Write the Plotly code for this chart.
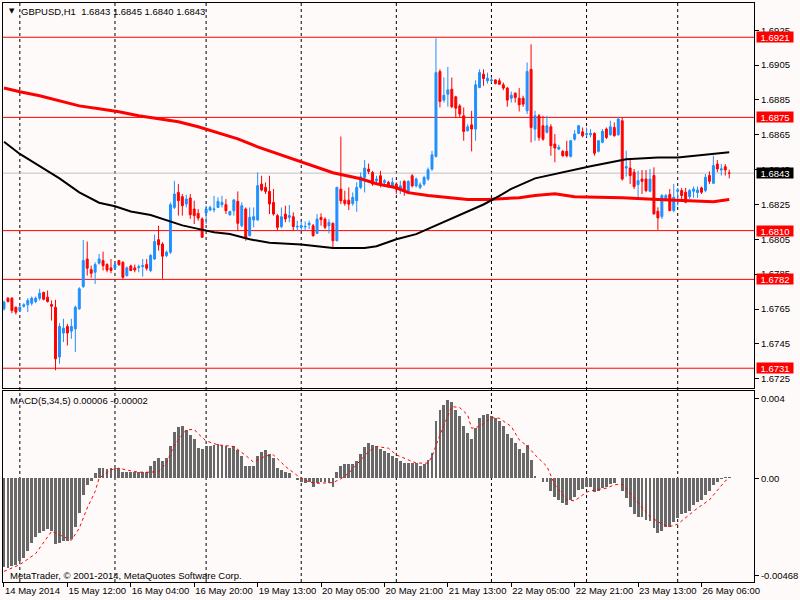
import plotly.graph_objects as go

# ---------------- data ----------------
bars = list(range(184))

opens = [1.67651,1.67712,1.67712,1.67660,1.67641,1.67666,1.67674,1.67683,1.67693,1.67712,
1.67745,1.67718,1.67676,1.67660,1.67374,1.67512,1.67550,1.67523,1.67536,1.67651,
1.67779,1.67937,1.67876,1.67861,1.67913,1.67928,1.67905,1.67886,1.67884,1.67928,
1.67918,1.67842,1.67897,1.67886,1.67888,1.67894,1.67905,1.67871,1.67937,1.68048,
1.68023,1.67957,1.67976,1.68233,1.68319,1.68295,1.68253,1.68287,1.68224,1.68199,
1.68167,1.68201,1.68218,1.68220,1.68233,1.68249,1.68249,1.68191,1.68214,1.68268,
1.68128,1.68224,1.68071,1.68161,1.68161,1.68367,1.68348,1.68325,1.68262,1.68186,
1.68123,1.68195,1.68176,1.68180,1.68121,1.68119,1.68121,1.68134,1.68128,1.68084,
1.68176,1.68166,1.68128,1.68142,1.68042,1.68338,1.68275,1.68275,1.68256,1.68271,
1.68348,1.68405,1.68453,1.68434,1.68386,1.68415,1.68377,1.68377,1.68357,1.68367,
1.68333,1.68382,1.68314,1.68415,1.68357,1.68348,1.68367,1.68396,1.68453,1.68526,
1.69013,1.68849,1.68883,1.68912,1.68868,1.68816,1.68759,1.68673,1.68707,1.68683,
1.68921,1.68998,1.68960,1.68960,1.68965,1.68960,1.68937,1.68918,1.68860,1.68889,
1.68860,1.68860,1.68788,1.69026,1.68683,1.68759,1.68702,1.68664,1.68696,1.68597,
1.68568,1.68555,1.68555,1.68526,1.68625,1.68658,1.68667,1.68652,1.68650,1.68658,
1.68555,1.68607,1.68683,1.68650,1.68692,1.68650,1.68731,1.68459,1.68459,1.68435,
1.68364,1.68396,1.68396,1.68326,1.68416,1.68211,1.68181,1.68282,1.68307,1.68215,
1.68326,1.68330,1.68320,1.68295,1.68326,1.68318,1.68345,1.68330,1.68416,1.68372,
1.68482,1.68448,1.68467,1.68430]

highs = [1.67699,1.67718,1.67718,1.67664,1.67670,1.67683,1.67712,1.67722,1.67722,1.67766,
1.67750,1.67756,1.67699,1.67703,1.67569,1.67594,1.67565,1.67594,1.67670,1.67775,
1.68046,1.68037,1.67899,1.67918,1.67966,1.67979,1.67913,1.67937,1.67913,1.67932,
1.67924,1.67894,1.67905,1.67905,1.67905,1.67937,1.67937,1.67966,1.68077,1.68128,
1.68033,1.67985,1.68262,1.68386,1.68367,1.68310,1.68306,1.68310,1.68272,1.68224,
1.68176,1.68243,1.68243,1.68300,1.68291,1.68300,1.68281,1.68214,1.68281,1.68325,
1.68262,1.68233,1.68233,1.68233,1.68434,1.68415,1.68377,1.68415,1.68339,1.68195,
1.68233,1.68243,1.68247,1.68205,1.68157,1.68157,1.68153,1.68157,1.68138,1.68195,
1.68199,1.68176,1.68166,1.68147,1.68352,1.68640,1.68329,1.68348,1.68319,1.68377,
1.68434,1.68505,1.68485,1.68443,1.68415,1.68443,1.68396,1.68386,1.68405,1.68377,
1.68386,1.68390,1.68390,1.68424,1.68405,1.68377,1.68415,1.68462,1.68558,1.69204,
1.69026,1.68979,1.69040,1.68979,1.68874,1.68826,1.68807,1.68711,1.68788,1.68963,
1.69026,1.69026,1.69007,1.68983,1.68969,1.68975,1.68950,1.68925,1.68898,1.68893,
1.68918,1.68874,1.69065,1.69170,1.68788,1.68769,1.68759,1.68759,1.68711,1.68654,
1.68593,1.68562,1.68616,1.68620,1.68677,1.68707,1.68692,1.68692,1.68683,1.68664,
1.68620,1.68683,1.68692,1.68731,1.68721,1.68754,1.68750,1.68559,1.68511,1.68454,
1.68444,1.68448,1.68448,1.68454,1.68463,1.68234,1.68310,1.68310,1.68339,1.68368,
1.68345,1.68345,1.68345,1.68339,1.68353,1.68353,1.68353,1.68425,1.68440,1.68530,
1.68505,1.68482,1.68482,1.68450]

lows = [1.67641,1.67687,1.67626,1.67618,1.67632,1.67657,1.67632,1.67670,1.67683,1.67699,
1.67699,1.67687,1.67584,1.67298,1.67336,1.67460,1.67441,1.67479,1.67403,1.67645,
1.67771,1.67842,1.67829,1.67794,1.67905,1.67871,1.67861,1.67855,1.67874,1.67897,
1.67823,1.67836,1.67867,1.67861,1.67861,1.67836,1.67871,1.67861,1.67932,1.67985,
1.67823,1.67947,1.67966,1.68224,1.68186,1.68186,1.68233,1.68167,1.68138,1.68157,
1.68058,1.68138,1.68211,1.68205,1.68230,1.68233,1.68195,1.68186,1.68186,1.68100,
1.68119,1.68042,1.68067,1.68119,1.68157,1.68325,1.68310,1.68195,1.68186,1.68100,
1.68115,1.68148,1.68148,1.68100,1.68100,1.68100,1.68100,1.68109,1.68065,1.68080,
1.68128,1.68109,1.68084,1.67995,1.68038,1.68252,1.68243,1.68218,1.68243,1.68208,
1.68338,1.68319,1.68424,1.68357,1.68367,1.68348,1.68367,1.68348,1.68348,1.68310,
1.68310,1.68300,1.68310,1.68348,1.68348,1.68338,1.68357,1.68386,1.68443,1.68520,
1.68807,1.68835,1.68811,1.68803,1.68746,1.68746,1.68616,1.68669,1.68555,1.68616,
1.68918,1.68931,1.68944,1.68950,1.68940,1.68937,1.68906,1.68811,1.68835,1.68835,
1.68784,1.68811,1.68769,1.68606,1.68616,1.68616,1.68616,1.68658,1.68530,1.68492,
1.68562,1.68524,1.68520,1.68520,1.68616,1.68654,1.68635,1.68639,1.68635,1.68530,
1.68549,1.68601,1.68626,1.68645,1.68639,1.68645,1.68387,1.68410,1.68368,1.68339,
1.68291,1.68310,1.68320,1.68320,1.68192,1.68104,1.68167,1.68272,1.68211,1.68205,
1.68244,1.68272,1.68257,1.68282,1.68288,1.68288,1.68310,1.68320,1.68368,1.68368,
1.68435,1.68416,1.68416,1.68400]

closes = [1.67689,1.67693,1.67641,1.67632,1.67660,1.67674,1.67699,1.67712,1.67712,1.67741,
1.67706,1.67693,1.67666,1.67364,1.67550,1.67540,1.67512,1.67550,1.67660,1.67766,
1.67928,1.67884,1.67855,1.67905,1.67937,1.67899,1.67874,1.67871,1.67905,1.67905,
1.67832,1.67886,1.67871,1.67874,1.67892,1.67899,1.67884,1.67957,1.68037,1.68018,
1.67953,1.67976,1.68249,1.68310,1.68272,1.68243,1.68281,1.68191,1.68186,1.68172,
1.68062,1.68224,1.68233,1.68224,1.68268,1.68262,1.68214,1.68209,1.68276,1.68142,
1.68243,1.68058,1.68176,1.68180,1.68358,1.68333,1.68325,1.68253,1.68195,1.68119,
1.68180,1.68167,1.68186,1.68123,1.68124,1.68128,1.68124,1.68142,1.68071,1.68166,
1.68163,1.68119,1.68147,1.68042,1.68348,1.68271,1.68256,1.68252,1.68291,1.68348,
1.68409,1.68459,1.68440,1.68367,1.68396,1.68367,1.68386,1.68357,1.68377,1.68338,
1.68357,1.68329,1.68382,1.68357,1.68396,1.68363,1.68405,1.68449,1.68535,1.69007,
1.68841,1.68877,1.68908,1.68811,1.68803,1.68769,1.68669,1.68696,1.68683,1.68937,
1.69007,1.68973,1.68975,1.68965,1.68944,1.68940,1.68918,1.68849,1.68877,1.68864,
1.68822,1.68826,1.69013,1.68692,1.68759,1.68635,1.68625,1.68702,1.68587,1.68574,
1.68578,1.68530,1.68530,1.68616,1.68654,1.68702,1.68644,1.68656,1.68658,1.68544,
1.68616,1.68670,1.68635,1.68696,1.68645,1.68740,1.68396,1.68467,1.68416,1.68353,
1.68387,1.68383,1.68330,1.68396,1.68196,1.68173,1.68301,1.68301,1.68215,1.68291,
1.68333,1.68301,1.68263,1.68330,1.68339,1.68333,1.68320,1.68406,1.68383,1.68473,
1.68454,1.68454,1.68448,1.68430]

ma_red_bars = [0,4,9,14,19,24,29,34,39,44,49,54,59,64,67,75,83,90,94,99,102,107,112,117,
               122,125,130,134,139,144,156,165,179,183]
ma_red_vals = [1.68919,1.68897,1.68874,1.68845,1.68816,1.68799,1.68782,1.68759,1.68742,1.68725,
               1.68696,1.68662,1.68627,1.68581,1.68558,1.68495,1.68432,1.68398,1.68369,1.68346,
               1.68318,1.68301,1.68289,1.68278,1.68278,1.68283,1.68289,1.68301,1.68312,1.68295,
               1.68289,1.68278,1.68266,1.68278]

ma_black_bars = [0,4,9,14,19,24,28,32,37,41,45,49,53,57,62,67,75,83,87,91,94,99,104,108,112,
                 117,121,125,128,134,140,148,157,165,170,175,179,183]
ma_black_vals = [1.6861,1.6854,1.6847,1.6840,1.6832,1.6826,1.6824,1.6821,1.6819,1.6816,1.6813,
                 1.6811,1.6809,1.6808,1.6805,1.6803,1.6802,1.6800,1.6800,1.6800,1.6801,1.6805,
                 1.6808,1.6812,1.6816,1.6821,1.6825,1.6830,1.6834,1.6840,1.6843,1.6847,1.6851,
                 1.6852,1.6852,1.6853,1.6854,1.6855]

macd_vals = [-0.00402,-0.00405,-0.00398,-0.0039,-0.00375,-0.0036,-0.0033,-0.00293,-0.00263,-0.00248,
-0.0024,-0.00228,-0.0024,-0.00297,-0.00293,-0.00285,-0.00282,-0.00273,-0.00222,-0.00158,
-0.00075,-0.0003,-0.00012,0.00023,0.00045,0.00045,0.00042,0.00045,0.00048,0.00045,
0.0003,0.0003,0.00027,0.0003,0.00027,0.00027,0.0003,0.00053,0.00078,0.00093,
0.00078,0.0009,0.00146,0.00206,0.0023,0.00233,0.00218,0.00195,0.00176,0.00135,
0.0013,0.00143,0.00146,0.0015,0.00153,0.0015,0.00143,0.00135,0.00143,0.00128,
0.00102,0.00056,0.00053,0.00053,0.00098,0.0012,0.00128,0.00108,0.0009,0.00048,
0.00038,0.00027,0.00023,0.00003,-0.00008,-0.00015,-0.00023,-0.00015,-0.00038,-0.00023,
-0.00015,-0.00015,-0.0002,-0.00042,0.00027,0.00057,0.00065,0.00065,0.00065,0.00078,
0.0011,0.0014,0.0016,0.0015,0.00143,0.00132,0.00123,0.00113,0.00102,0.0009,
0.00078,0.00068,0.0007,0.0007,0.00068,0.00057,0.00065,0.00083,0.00113,0.00258,
0.00308,0.0033,0.00353,0.00342,0.00308,0.00282,0.00237,0.00203,0.00177,0.00228,
0.0027,0.00285,0.00288,0.00282,0.0027,0.00258,0.00237,0.00198,0.00183,0.00158,
0.00132,0.00113,0.0015,0.0008,0.00008,0.00002,-0.00015,-0.00018,-0.00057,-0.00083,
-0.00098,-0.00113,-0.00123,-0.00098,-0.00083,-0.00053,-0.00048,-0.00038,-0.00042,-0.00063,
-0.00057,-0.00045,-0.00038,-0.00027,-0.00023,0.00003,-0.0006,-0.0009,-0.00128,-0.00162,
-0.00173,-0.00177,-0.00188,-0.00195,-0.00225,-0.00248,-0.00237,-0.00218,-0.00218,-0.00198,
-0.0018,-0.00162,-0.00158,-0.00147,-0.0012,-0.00108,-0.00098,-0.00075,-0.0006,-0.0003,
-0.00015,-0.00003,0.00005,0.00006]

signal_bars = [0,4,8,10,12,14,17,19,21,23,24,27,29,32,34,37,39,41,43,46,48,49,51,54,58,61,63,66,
               68,71,74,77,79,83,85,87,89,92,94,97,99,102,104,107,108,110,112,113,115,117,118,
               120,123,125,128,130,132,134,137,139,142,144,147,149,152,154,156,158,161,163,166,
               168,170,173,175,178,180,182,183]
signal_vals = [-0.0042,-0.0039,-0.0034,-0.0029,-0.0024,-0.00255,-0.0028,-0.00225,-0.00135,-0.0006,
               0.0,0.00038,0.00045,0.00033,0.00027,0.00027,0.0003,0.00068,0.0015,0.00218,0.0022,
               0.002,0.00168,0.0015,0.00143,0.00102,0.00072,0.001,0.00105,0.00053,0.00012,-0.00018,
               -0.00023,-0.0002,-0.00003,0.00023,0.0006,0.0012,0.00143,0.00135,0.00105,0.00083,
               0.00068,0.00068,0.00098,0.00195,0.00285,0.00323,0.00318,0.00285,0.00225,0.00233,
               0.00273,0.0027,0.00233,0.00173,0.00145,0.00105,0.00053,-0.0003,-0.00098,-0.00102,
               -0.00063,-0.00053,-0.00045,-0.0003,-0.00027,-0.00068,-0.00128,-0.00173,-0.00207,
               -0.00218,-0.00207,-0.00165,-0.00135,-0.00098,-0.00053,-0.00012,-0.00002]

tick_bars = [0,16,32,48,64,80,96,112,128,144,160,176]
tick_labels = ["14 May 2014","15 May 12:00","16 May 04:00","16 May 20:00","19 May 13:00",
               "20 May 05:00","20 May 21:00","21 May 13:00","22 May 05:00","22 May 21:00",
               "23 May 13:00","26 May 06:00"]
day_sep_bars = [4,28,51,75,99,123,147,170]
red_levels = [1.6921,1.6875,1.6810,1.6782,1.6731]
red_level_labels = ["1.6921","1.6875","1.6810","1.6782","1.6731"]
bid_level = 1.6843
bid_label = "1.6843"
price_ticks = [1.6925,1.6905,1.6885,1.6865,1.6845,1.6825,1.6805,1.6785,1.6765,1.6745,1.6725]
macd_tickvals = [0.0036,0.0,-0.0044]
macd_ticktext = ["0.004","0.00","-0.00468"]

# ---------------- figure ----------------
BG = "#FFFAFA"
FONT = "Tahoma, Liberation Sans, Arial, sans-serif"
FS = 9.5
W, H = 800, 600
ML, MR, MT, MB = 2, 40, 2, 18
plot_w = W - ML - MR
plot_h = H - MT - MB

def px_x(px):
    return (px - ML) / plot_w

def px_y(py):
    return (H - MB - py) / plot_h

main_dom = [px_y(388), 1.0]
macd_dom = [0.0, px_y(391)]

fig = go.Figure()

fig.add_trace(go.Candlestick(
    x=bars, open=opens, high=highs, low=lows, close=closes,
    xaxis="x", yaxis="y",
    increasing=dict(line=dict(color="#1E90FF", width=1), fillcolor="#1E90FF"),
    decreasing=dict(line=dict(color="#FF0000", width=1), fillcolor="#FF0000"),
    whiskerwidth=0, hoverinfo="skip", showlegend=False))

fig.add_trace(go.Scatter(x=ma_red_bars, y=ma_red_vals, mode="lines", xaxis="x", yaxis="y",
                         line=dict(color="#FF0000", width=3), hoverinfo="skip", showlegend=False))
fig.add_trace(go.Scatter(x=ma_black_bars, y=ma_black_vals, mode="lines", xaxis="x", yaxis="y",
                         line=dict(color="#000000", width=2), hoverinfo="skip", showlegend=False))

fig.add_trace(go.Bar(x=bars, y=macd_vals, xaxis="x2", yaxis="y2", width=0.72,
                     marker=dict(color="#686868", line=dict(width=0)),
                     hoverinfo="skip", showlegend=False))
fig.add_trace(go.Scatter(x=signal_bars, y=signal_vals, mode="lines", xaxis="x2", yaxis="y2",
                         line=dict(color="#FF0000", width=1, dash="dot"),
                         hoverinfo="skip", showlegend=False))

shapes = []
for b in day_sep_bars:
    shapes.append(dict(type="line", xref="x", yref="paper", x0=b, x1=b, y0=0, y1=1,
                       line=dict(color="black", width=1, dash="3px,3px"), layer="below"))
for lv in red_levels:
    shapes.append(dict(type="line", xref="x domain", yref="y", x0=0, x1=1, y0=lv, y1=lv,
                       line=dict(color="#FF0000", width=1), layer="below"))
shapes.append(dict(type="line", xref="x domain", yref="y", x0=0, x1=1, y0=bid_level, y1=bid_level,
                   line=dict(color="#C0C0C0", width=1), layer="below"))

annotations = []
for lv, txt in zip(red_levels, red_level_labels):
    annotations.append(dict(xref="paper", yref="y", x=1, y=lv, xanchor="left", yanchor="middle",
                            xshift=2, text=txt, showarrow=False, bgcolor="#FF0000",
                            font=dict(color="white", size=FS, family=FONT),
                            width=36, height=10, borderpad=0))
annotations.append(dict(xref="paper", yref="y", x=1, y=bid_level, xanchor="left", yanchor="middle",
                        xshift=2, text=bid_label, showarrow=False, bgcolor="#000000",
                        font=dict(color="white", size=FS, family=FONT),
                        width=36, height=10, borderpad=0))
annotations.append(dict(xref="paper", yref="paper", x=px_x(6), y=px_y(10.5), xanchor="left",
                        yanchor="middle", text="▼", showarrow=False,
                        font=dict(color="black", size=7, family="DejaVu Sans")))
annotations.append(dict(xref="paper", yref="paper", x=px_x(18), y=px_y(10.5), xanchor="left",
                        yanchor="middle", text="GBPUSD,H1  1.6843 1.6845 1.6840 1.6843",
                        showarrow=False, font=dict(color="black", size=FS, family=FONT)))
annotations.append(dict(xref="paper", yref="paper", x=px_x(7), y=px_y(400), xanchor="left",
                        yanchor="middle", text="MACD(5,34,5) 0.00006 -0.00002",
                        showarrow=False, font=dict(color="black", size=FS, family=FONT)))
annotations.append(dict(xref="paper", yref="paper", x=px_x(7), y=px_y(575), xanchor="left",
                        yanchor="middle", text="MetaTrader, © 2001-2014, MetaQuotes Software Corp.",
                        showarrow=False, font=dict(color="black", size=FS, family=FONT)))

axis_common = dict(showline=True, mirror=True, linecolor="black", linewidth=1,
                   showgrid=False, zeroline=False)

fig.update_layout(
    width=W, height=H,
    margin=dict(l=ML, r=MR, t=MT, b=MB, pad=0),
    paper_bgcolor=BG, plot_bgcolor=BG,
    font=dict(family=FONT, size=FS, color="black"),
    hovermode=False, showlegend=False, bargap=0,
    xaxis=dict(domain=[0, 1], anchor="y", range=[-0.25, 189.25], showticklabels=False,
               ticks="", rangeslider=dict(visible=False), **axis_common),
    xaxis2=dict(domain=[0, 1], anchor="y2", range=[-0.25, 189.25], matches="x",
                tickmode="array", tickvals=tick_bars, ticktext=tick_labels,
                ticks="outside", ticklen=4, tickcolor="black", tickangle=0,
                ticklabelposition="outside right",
                tickfont=dict(size=FS, family=FONT, color="black"), **axis_common),
    yaxis=dict(domain=main_dom, anchor="x", side="right", range=[1.671946, 1.694066],
               tickmode="array", tickvals=price_ticks, tickformat=".4f",
               ticks="outside", ticklen=4, tickcolor="black",
               tickfont=dict(size=FS, family=FONT, color="black"), **axis_common),
    yaxis2=dict(domain=macd_dom, anchor="x2", side="right", range=[-0.00468, 0.003915],
                tickmode="array", tickvals=macd_tickvals, ticktext=macd_ticktext,
                ticks="outside", ticklen=4, tickcolor="black",
                tickfont=dict(size=FS, family=FONT, color="black"), **axis_common),
    shapes=shapes, annotations=annotations,
)

fig.write_html("out.html",
               config={"displayModeBar": False, "staticPlot": True},
               post_script="document.body.style.margin='0px';document.body.style.padding='0px';")
